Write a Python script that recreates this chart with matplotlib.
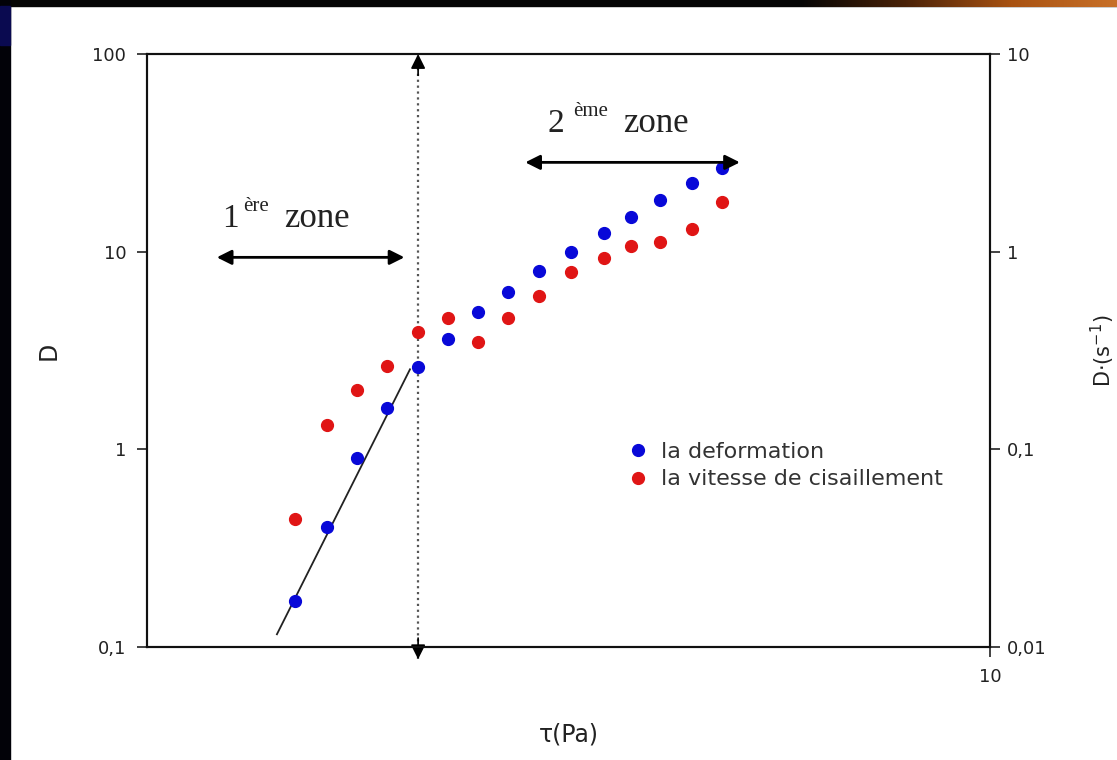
import numpy as np
import matplotlib
matplotlib.use("Agg")
from matplotlib import pyplot as plt
from matplotlib.patches import Rectangle
from matplotlib.colors import LinearSegmentedColormap

# data
tau = [1.50, 1.635, 1.775, 1.926, 2.097, 2.275, 2.47, 2.681, 2.917, 3.184, 3.485, 3.752, 4.059, 4.432, 4.81]
deformation = [0.170, 0.403, 0.900, 1.61, 2.60, 3.60, 4.93, 6.22, 7.95, 9.92, 12.4, 14.9, 18.2, 22.2, 26.4]
vitesse = [0.0443, 0.132, 0.199, 0.263, 0.391, 0.460, 0.348, 0.460, 0.594, 0.786, 0.925, 1.064, 1.114, 1.297, 1.776]

fit_x = [1.426, 2.051]
fit_y = [0.116, 2.54]

limit_x = 2.097
limit_y = [0.0867, 100]

zone1_x = [1.21, 2.02]
zone1_y = 9.36
zone2_x = [2.81, 5.05]
zone2_y = 28.3
zone_text_x = [1.227, 2.99]
zone_text_y = [13.3, 40.1]

left_ticks = [0.1, 1, 10, 100]
left_labels = ["0,1", "1", "10", "100"]
right_ticks = [0.01, 0.1, 1, 10]
right_labels = ["0,01", "0,1", "1", "10"]

plt.rcParams['font.family'] = ['DejaVu Sans']

fig = plt.figure(figsize=(11.17, 7.6), dpi=100)
fig.patch.set_facecolor('white')

# dark slide border
fig.patches.append(Rectangle((0, 1 - 6 / 760), 1, 6 / 760, transform=fig.transFigure, color='#050505', zorder=0))
fig.patches.append(Rectangle((0, 0), 10 / 1117, 1, transform=fig.transFigure, color='#020208', zorder=0))
fig.patches.append(Rectangle((0, 1 - 45 / 760), 10 / 1117, 39 / 760, transform=fig.transFigure, color='#0a0a50', zorder=0))
gax = fig.add_axes([800 / 1117, 1 - 7 / 760, 317 / 1117, 7 / 760], zorder=5)
grad = np.linspace(0, 1, 256).reshape(1, -1)
cm = LinearSegmentedColormap.from_list('edge', ['#050505', '#4a2208', '#a85212', '#c87028'])
gax.imshow(grad, aspect='auto', cmap=cm)
gax.axis('off')

ax = fig.add_axes([147 / 1117, 1 - 647 / 760, 843 / 1117, 593 / 760])
ax2 = ax.twinx()

ax.set_xscale('log')
ax.set_yscale('log')
ax2.set_yscale('log')
ax.set_xlim(1, 10)
ax.set_ylim(0.1, 100)
ax2.set_ylim(0.01, 10)

ax.plot(fit_x, fit_y, color='#222222', lw=1.3, zorder=2)
h1, = ax.plot(tau, deformation, 'o', color='#0808d8', ms=8.5, ls='none', label='la deformation', zorder=3)
h2, = ax2.plot(tau, vitesse, 'o', color='#e01515', ms=8.5, ls='none', label='la vitesse de cisaillement', zorder=3)

# dotted boundary between the zones
ax.plot([limit_x, limit_x], limit_y, ls=':', color='#555555', lw=1.6, clip_on=False, zorder=2)
ax.annotate('', xy=(limit_x, limit_y[1]), xytext=(limit_x, limit_y[1] * 0.78),
            arrowprops=dict(arrowstyle='-|>', color='k', lw=1.2, mutation_scale=22, shrinkA=0, shrinkB=0),
            annotation_clip=False)
ax.annotate('', xy=(limit_x, limit_y[0]), xytext=(limit_x, limit_y[0] * 1.28),
            arrowprops=dict(arrowstyle='-|>', color='k', lw=1.2, mutation_scale=22, shrinkA=0, shrinkB=0),
            annotation_clip=False)

for xs, yv in [(zone1_x, zone1_y), (zone2_x, zone2_y)]:
    ax.annotate('', xy=(xs[0], yv), xytext=(xs[1], yv),
                arrowprops=dict(arrowstyle='<|-|>', color='k', lw=2, mutation_scale=22, shrinkA=0, shrinkB=0))

serif = 'Liberation Serif'
zone_parts = [("1", "ère", 15, 45), ("2", "ème", 18, 54)]
for (num, sup, dsup, dzone), tx, ty in zip(zone_parts, zone_text_x, zone_text_y):
    ax.annotate(num, xy=(tx, ty), xytext=(0, 0), textcoords='offset points',
                family=serif, fontsize=24, color='#222222', va='baseline', ha='left')
    ax.annotate(sup, xy=(tx, ty), xytext=(dsup, 12), textcoords='offset points',
                family=serif, fontsize=15, color='#222222', va='baseline', ha='left')
    ax.annotate("zone", xy=(tx, ty), xytext=(dzone, 0), textcoords='offset points',
                family=serif, fontsize=25, color='#222222', va='baseline', ha='left')

ax.set_xticks([10])
ax.set_xticklabels(['10'])
ax.xaxis.set_minor_locator(matplotlib.ticker.NullLocator())
ax.set_yticks(left_ticks)
ax.set_yticklabels(left_labels)
ax.yaxis.set_minor_locator(matplotlib.ticker.NullLocator())
ax2.set_yticks(right_ticks)
ax2.set_yticklabels(right_labels)
ax2.yaxis.set_minor_locator(matplotlib.ticker.NullLocator())

for a in (ax, ax2):
    a.tick_params(axis='both', direction='out', length=7, width=1.2, labelsize=13, colors='#222222', pad=8)
    for s in a.spines.values():
        s.set_linewidth(1.5)
        s.set_color('#111111')
ax2.tick_params(axis='y', pad=5)

ax.set_xlabel('τ(Pa)', fontsize=17, color='#222222')
ax.xaxis.set_label_coords(0.5, -0.1265)
ax.set_ylabel('D', fontsize=17, color='#222222')
ax.yaxis.set_label_coords(-0.103, 0.5)
ax2.set_ylabel(r'D$\cdot$(s$^{-1}$)', fontsize=15, color='#222222')
ax2.yaxis.set_label_coords(1.117, 0.5)

ax.legend([h1, h2], ['la deformation', 'la vitesse de cisaillement'], loc='upper left',
          bbox_to_anchor=(0.545, 0.38), frameon=False, fontsize=16, numpoints=1,
          handlelength=1.0, handletextpad=0.55, labelspacing=0.35, labelcolor='#333333')

fig.savefig('out.png', dpi=100, facecolor=fig.get_facecolor())
